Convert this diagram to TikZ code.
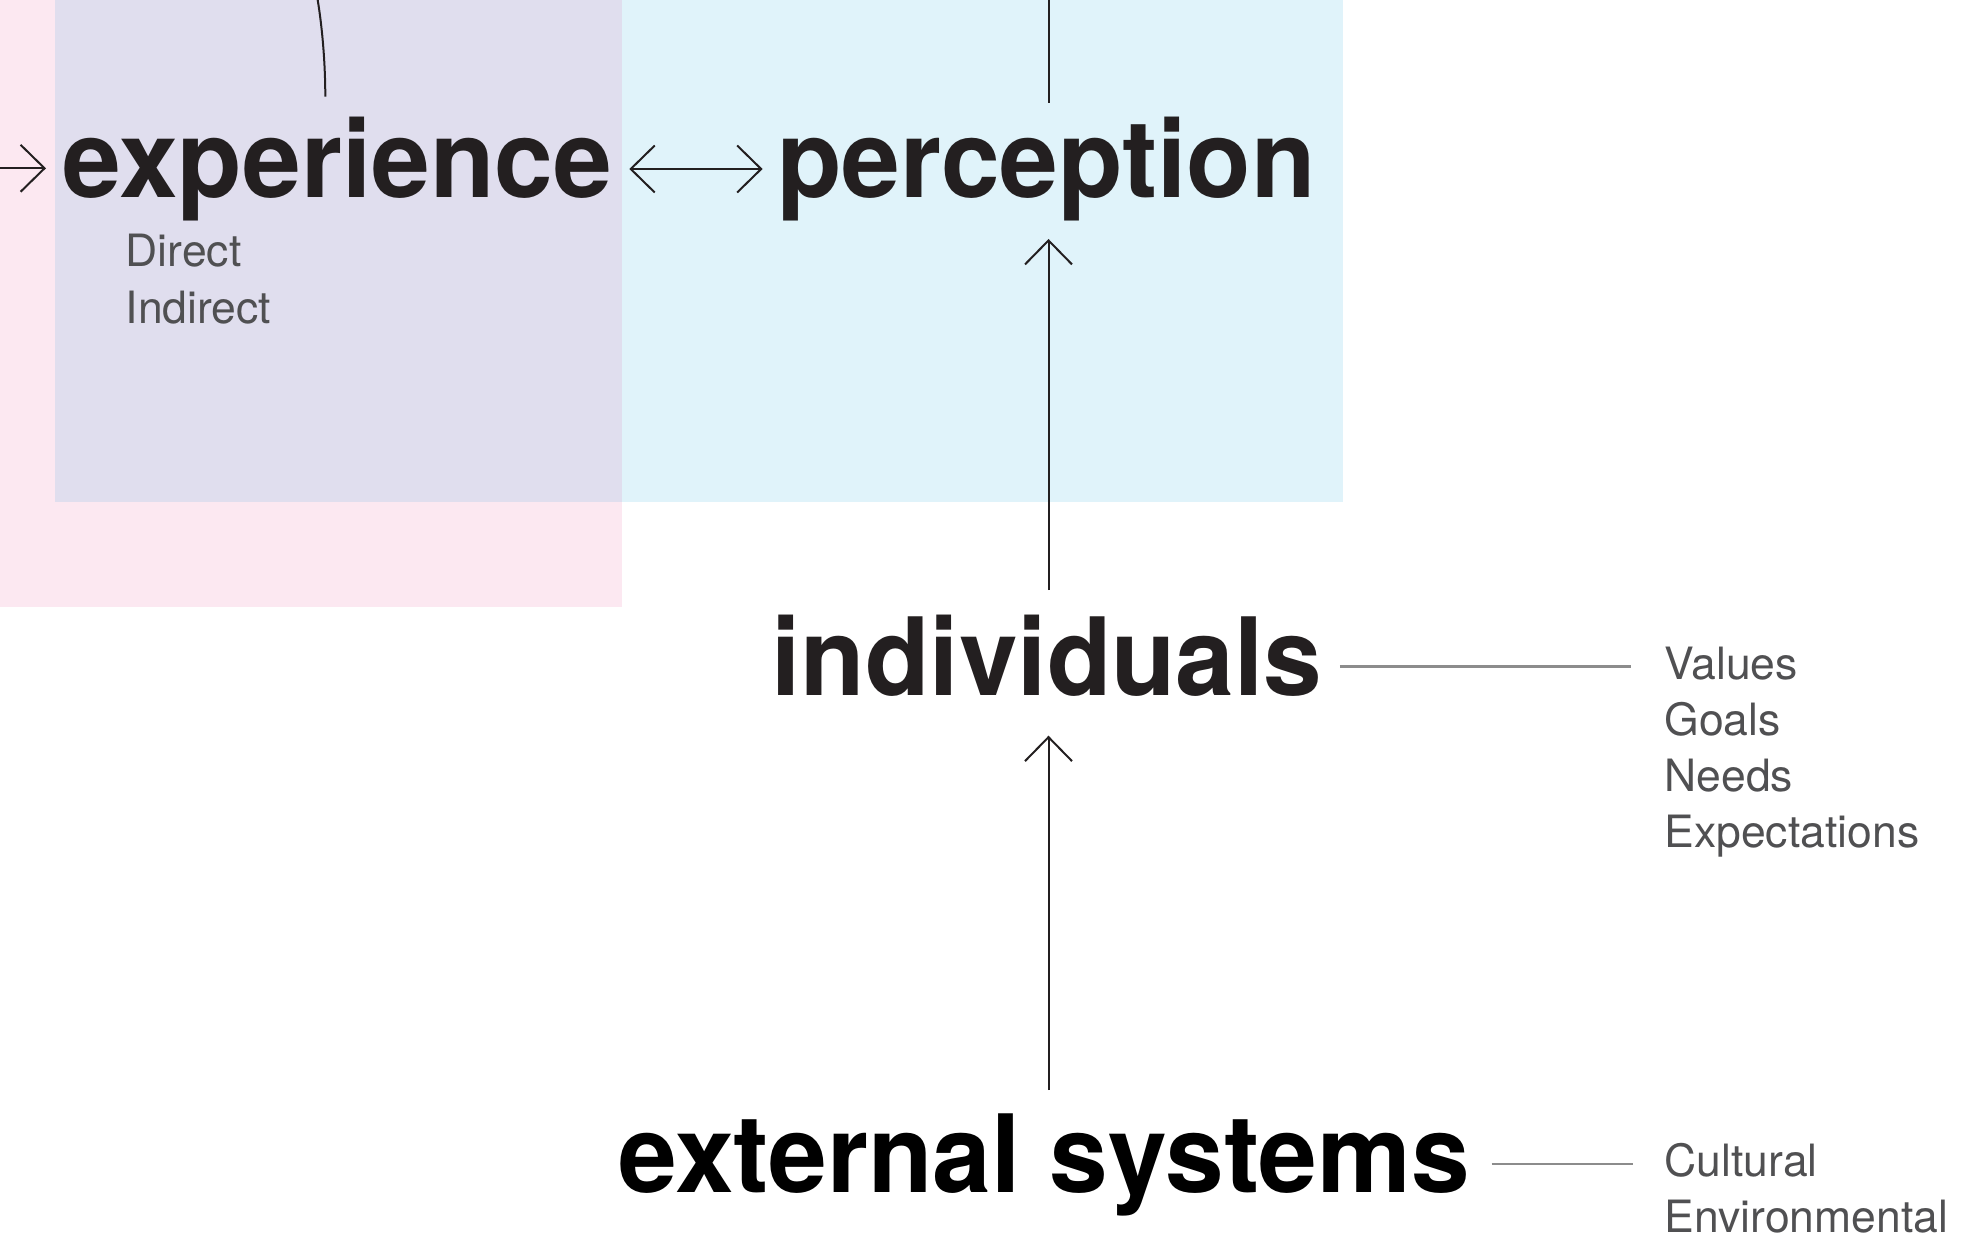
\documentclass[tikz,border=0pt]{standalone}
\usepackage{fontspec}
\usetikzlibrary{arrows.meta}
\newfontfamily\headfont{TeX Gyre Heros}[FakeStretch=0.977]
\newfontfamily\listfont{TeX Gyre Heros}
\definecolor{ink}{HTML}{231F20}
\definecolor{labelgray}{HTML}{505052}
\definecolor{rulegray}{HTML}{8C8C8C}
\definecolor{pinkfield}{HTML}{FCE8F1}
\definecolor{bluefield}{HTML}{E0F3FA}
\definecolor{mixfield}{HTML}{E0DEEE}
\tikzset{
  head/.style={inner sep=0pt, outer sep=0pt, anchor=base west, text=ink,
    font=\headfont\bfseries\fontsize{54pt}{60pt}\selectfont,
    text height=39pt, text depth=10.5pt},
  item/.style={inner sep=0pt, outer sep=0pt, anchor=base west, text=labelgray,
    font=\listfont\fontsize{22.25pt}{28pt}\selectfont},
  conn/.style={draw=ink, line width=1pt},
  arr/.style={conn, -{Straight Barb[length=12pt, width=23.5pt]}},
  arrs/.style={conn, {Straight Barb[length=12pt, width=23.5pt]}-{Straight Barb[length=12pt, width=23.5pt]}},
  rule/.style={draw=rulegray, line width=1.35pt}
}
\begin{document}
\begin{tikzpicture}[x=0.5pt, y=-0.5pt]
\useasboundingbox (0,0) rectangle (1963,1240);
% background fields
\fill[pinkfield] (0,0) rectangle (622,607);
\fill[bluefield] (622,0) rectangle (1342.7,502);
\fill[mixfield] (55,0) rectangle (622,502);

% main terms
\node[head] (exp) at (62.7,197.5) {experience};
\node[head] (perc) at (777,197.5) {perception};
\node[head] (indiv) at (771.4,695) {individuals};
\node[head, text=black] (ext) at (618.5,1192.5) {external systems};

% sub-items
\node[item] (direct) at (125.8,266.7) {Direct};
\node[item] (indirect) at (125.8,323.3) {Indirect};
\node[item] (vals) at (1664.5,679.3) {Values};
\node[item] (goals) at (1664.5,735.5) {Goals};
\node[item] (needs) at (1664.5,791.7) {Needs};
\node[item] (expect) at (1664.5,847.7) {Expectations};
\node[item] (cult) at (1664.5,1176.5) {Cultural};
\node[item] (envir) at (1664.5,1232) {Environmental};

% helper coordinates for incoming ends
\coordinate (ptop) at (1048.5,0);
\coordinate (ctop) at (317.7,0);
\coordinate (ctail) at (325.3,0);
\coordinate (lin) at (0,168.3);

% connectors
\draw[arr, shorten >=8.35pt] (lin) -- (lin -| exp.west);
\draw[arrs, shorten <=8.7pt, shorten >=7.2pt] (exp.east) -- (perc.west);
\draw[conn, shorten >=8.25pt] (ptop) -- (ptop |- perc.north);
\draw[conn, shorten >=11.4pt] (ctop) .. controls (322.6,30) and (325.3,65) .. (exp.north -| ctail);
\draw[arr, shorten <=13.5pt, shorten >=10.25pt] (ptop |- indiv.north) -- (ptop |- perc.south);
\draw[arr, shorten <=12.25pt, shorten >=9.85pt] (ptop |- ext.north) -- (ptop |- indiv.south);
\draw[rule, shorten <=8.65pt, shorten >=16.8pt] (indiv.east) -- (indiv.east -| vals.west);
\draw[rule, shorten <=10.75pt, shorten >=15.75pt] (ext.east) -- (ext.east -| cult.west);
\end{tikzpicture}
\end{document}
